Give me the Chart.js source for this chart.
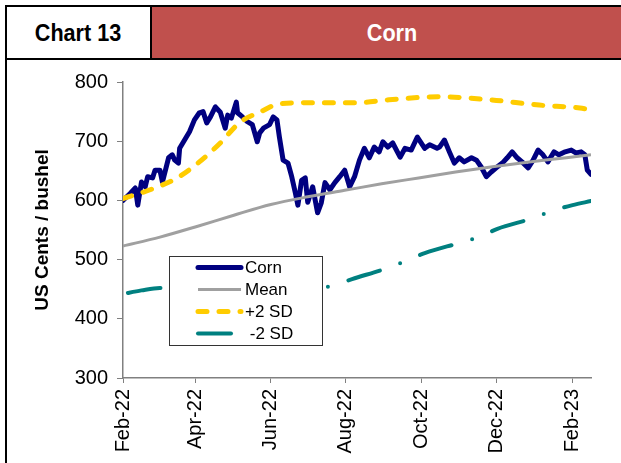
<!DOCTYPE html>
<html>
<head>
<meta charset="utf-8">
<script src="https://cdn.jsdelivr.net/npm/chart.js@4.4.1/dist/chart.umd.min.js"></script>
<style>
  html, body { margin: 0; padding: 0; background: #fff; }
  body { width: 621px; height: 463px; position: relative; overflow: hidden; font-family: "Liberation Sans", Arial, sans-serif; }
  #hdr { position: absolute; left: 5px; top: 5px; width: 620px; height: 51px; border: 2px solid #000; border-right: none; display: flex; }
  #hdrL { width: 143px; background: #fff; display: flex; align-items: center; justify-content: center; font-weight: bold; font-size: 24px; color: #000; }
  #hdrR { flex: 1; background: #C0504D; border-left: 2px solid #000; display: flex; align-items: center; justify-content: center; font-weight: bold; font-size: 24px; color: #fff; padding-left: 4px; }
  .cond { display: inline-block; transform: scaleX(0.9); }
  #frameL { position: absolute; left: 5px; top: 58px; width: 2px; height: 405px; background: #000; }
  #wrap { position: absolute; left: 0; top: 0; width: 621px; height: 463px; }
</style>
</head>
<body>
<div id="wrap"><canvas id="c" width="621" height="463"></canvas></div>
<div id="hdr"><div id="hdrL"><span class="cond">Chart 13</span></div><div id="hdrR"><span class="cond">Corn</span></div></div>
<div id="frameL"></div>
<script>
// ---- Data (x = days since 1 Feb 2022) ----
const tickDays   = [0, 59, 120, 181, 242, 303, 365];
const tickLabels = ['Feb-22', 'Apr-22', 'Jun-22', 'Aug-22', 'Oct-22', 'Dec-22', 'Feb-23'];

const cornDays = [0, 2, 6, 10, 12, 15, 18, 20, 24, 26, 30, 32, 37, 40, 42, 45, 46, 50, 54, 58, 62, 65, 68, 71, 75, 79, 83, 85, 88, 92, 93, 97, 101, 105, 109, 111, 114, 119, 122, 125, 127, 130, 134, 137, 140, 142, 145, 148, 150, 154, 158, 161, 164, 168, 172, 176, 180, 184, 188, 192, 196, 200, 204, 208, 211, 215, 219, 225, 229, 234, 239, 245, 249, 255, 257, 261, 265, 269, 273, 277, 283, 287, 291, 295, 299, 303, 308, 312, 316, 320, 324, 329, 333, 337, 341, 345, 350, 354, 359, 364, 368, 372, 375, 377, 380];
const cornValues = [600, 604, 612, 621, 592, 631, 623, 640, 638, 651, 651, 631, 672, 677, 668, 663, 688, 702, 716, 736, 748, 750, 731, 741, 758, 749, 722, 744, 739, 766, 748, 741, 733, 728, 699, 714, 722, 728, 741, 736, 707, 668, 663, 640, 612, 592, 634, 638, 597, 623, 579, 596, 630, 618, 630, 640, 651, 623, 640, 668, 688, 672, 690, 682, 699, 690, 697, 673, 688, 685, 707, 688, 694, 688, 690, 702, 682, 663, 672, 665, 672, 668, 656, 640, 648, 655, 663, 672, 682, 672, 665, 655, 668, 685, 677, 665, 682, 677, 682, 685, 680, 682, 677, 651, 644];

const meanDays   = [0, 30, 60, 90, 120, 150, 180, 210, 240, 270, 300, 330, 360, 380];
const meanValues = [523, 538, 556, 575, 593, 606, 617, 628, 638, 648, 657, 665, 672, 677];

const plusDays   = [0, 22, 44, 62, 79, 95, 111, 127, 152, 190, 216, 257, 298, 338, 371, 380];
const plusValues = [603, 618, 638, 665, 697, 732, 749, 763, 765, 765, 770, 775, 770, 761, 756, 753];

const minusDays   = [0, 15, 30, 45, 60, 75, 90, 105, 120, 135, 150, 170, 186, 215, 230, 245, 273, 289, 304, 333, 348, 365, 380];
const minusValues = [442, 448, 452, 452, 446, 436, 426, 418, 424, 436, 446, 456, 467, 486, 498, 511, 528, 538, 552, 570, 582, 592, 599];

const pts = (d, v) => d.map((x, i) => ({ x: x, y: v[i] }));

const boxLegend = {
  id: 'boxLegend',
  afterDraw(chart) {
    const ctx = chart.ctx, a = chart.chartArea;
    const x0 = a.left + 46, y0 = a.top + 174, w = 153, h = 89;
    ctx.save();
    ctx.fillStyle = '#fff';
    ctx.fillRect(x0, y0, w, h);
    ctx.strokeStyle = '#333';
    ctx.lineWidth = 1;
    ctx.strokeRect(x0 + 0.5, y0 + 0.5, w, h);
    chart.data.datasets.forEach((ds, i) => {
      const y = y0 + 11.5 + i * 22;
      ctx.beginPath();
      ctx.setLineDash(ds.borderDash || []);
      ctx.lineDashOffset = 0;
      ctx.lineCap = ds.borderCapStyle || 'butt';
      ctx.lineWidth = ds.borderWidth;
      ctx.strokeStyle = ds.borderColor;
      ctx.moveTo(x0 + 29, y);
      ctx.lineTo(x0 + 72, y);
      ctx.stroke();
      ctx.setLineDash([]);
      ctx.fillStyle = '#000';
      ctx.font = '17px "Liberation Sans", Arial, sans-serif';
      ctx.textBaseline = 'middle';
      ctx.textAlign = 'left';
      ctx.fillText(ds.label, x0 + 76, y + 1);
    });
    ctx.restore();
  }
};

new Chart(document.getElementById('c'), {
  type: 'line',
  data: {
    datasets: [
      { label: 'Corn', data: pts(cornDays, cornValues), borderColor: '#000080', borderWidth: 5, borderCapStyle: 'round', borderJoinStyle: 'round', pointRadius: 0, tension: 0, order: 4 },
      { label: 'Mean', data: pts(meanDays, meanValues), borderColor: '#A0A0A0', borderWidth: 3, pointRadius: 0, cubicInterpolationMode: 'monotone', order: 3 },
      { label: '+2 SD', data: pts(plusDays, plusValues), borderColor: '#FFCC00', borderWidth: 5, borderDash: [9, 12], borderCapStyle: 'round', pointRadius: 0, cubicInterpolationMode: 'monotone', order: 2 },
      { label: ' -2 SD', data: pts(minusDays, minusValues), borderColor: '#008080', borderWidth: 4, borderDash: [33, 21.5, 0, 21.5], borderDashOffset: -5, borderCapStyle: 'round', pointRadius: 0, cubicInterpolationMode: 'monotone', order: 1 }
    ]
  },
  options: {
    responsive: false,
    animation: false,
    layout: { padding: { left: 0, top: 82, right: 30, bottom: 0 } },
    plugins: { legend: { display: false }, tooltip: { enabled: false } },
    scales: {
      x: {
        type: 'linear', min: 0, max: 380,
        afterBuildTicks: s => { s.ticks = tickDays.map(v => ({ value: v })); },
        afterFit: s => { s.height = 85; },
        ticks: {
          autoSkip: false, minRotation: 90, maxRotation: 90, padding: 6,
          color: '#000', font: { family: '"Liberation Sans", Arial, sans-serif', size: 20 },
          callback: v => tickLabels[tickDays.indexOf(v)]
        },
        grid: { drawOnChartArea: false, drawTicks: true, tickLength: 5, color: '#808080', lineWidth: 1 },
        border: { display: true, color: '#808080', width: 1.5 }
      },
      y: {
        min: 300, max: 800,
        afterFit: s => { s.width = 123; },
        ticks: {
          stepSize: 100, padding: 9, color: '#000',
          font: { family: '"Liberation Sans", Arial, sans-serif', size: 20 }
        },
        title: {
          display: true, text: 'US Cents / bushel', color: '#000',
          font: { family: '"Liberation Sans", Arial, sans-serif', size: 19, weight: 'bold' },
          padding: { top: 31, bottom: 0 }
        },
        grid: { drawOnChartArea: false, drawTicks: true, tickLength: 6, color: '#808080', lineWidth: 1 },
        border: { display: true, color: '#808080', width: 1.5 }
      }
    }
  },
  plugins: [boxLegend]
});
</script>
</body>
</html>
